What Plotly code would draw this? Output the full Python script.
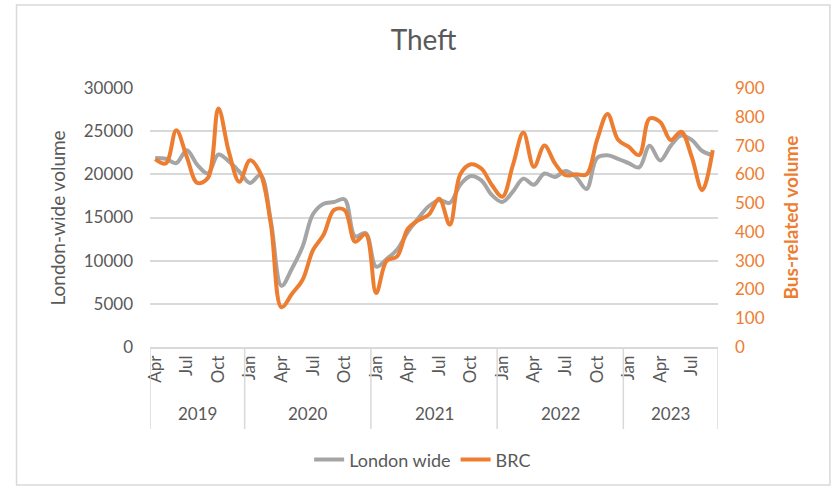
import plotly.graph_objects as go
import pandas as pd

# Monthly periods, April 2019 to September 2023
periods = pd.period_range("2019-04", "2023-09", freq="M")
month_labels = [p.strftime("%b") for p in periods]
year_labels = [p.year for p in periods]

# London-wide theft volume (left axis)
london_wide = [
    21900, 21800, 21300, 22800, 21100, 20100, 22300, 21500, 20300, 19000,
    19900, 14500, 7100, 9100, 11600, 15400, 16600, 16800, 17100, 12800,
    13200, 9300, 10200, 11300, 13300, 14900, 16300, 17000, 16700, 18800,
    19800, 19300, 17600, 16800, 18000, 19500, 18800, 20100, 19700, 20400,
    19700, 18300, 21900, 22200, 21800, 21300, 20800, 23300, 21600, 23300,
    24500, 24000, 22700, 22200,
]

# Bus-related theft volume (right axis)
brc = [
    653, 638, 753, 660, 570, 587, 829, 678, 574, 649,
    603, 424, 138, 185, 233, 337, 390, 476, 476, 366,
    392, 188, 300, 315, 410, 440, 460, 515, 425, 600,
    635, 620, 563, 522, 632, 745, 626, 700, 638, 597,
    600, 600, 720, 810, 720, 696, 667, 794, 782, 719,
    748, 661, 545, 684,
]

GREY = "#A5A5A5"
ORANGE = "#ED7D31"
TEXT = "#595959"
RULE = "#D9D9D9"
FONT = "Lato"

idx = list(range(len(periods)))
shown_months = {"Jan", "Apr", "Jul", "Oct"}
tickvals = [i for i, m in enumerate(month_labels) if m in shown_months]
ticktext = [month_labels[i] for i in tickvals]

fig = go.Figure()
fig.add_trace(go.Scatter(
    x=idx, y=london_wide, name="London wide", mode="lines",
    line=dict(color=GREY, width=4, shape="spline", smoothing=1),
))
fig.add_trace(go.Scatter(
    x=idx, y=brc, name="BRC", mode="lines", yaxis="y2",
    line=dict(color=ORANGE, width=4, shape="spline", smoothing=1),
))

# Year group separators below the month labels
bottom = -0.317
boundaries = [-0.5] + [i - 0.5 for i, m in enumerate(month_labels) if m == "Jan"] + [len(idx) - 0.5]
shapes = [
    dict(type="line", xref="x", yref="paper", x0=b, x1=b, y0=0, y1=bottom,
         line=dict(color=RULE, width=1.5))
    for b in boundaries
]
# Outer chart border
shapes.append(dict(type="rect", xref="paper", yref="paper",
                   x0=-0.235, x1=1.197, y0=-0.533, y1=1.32,
                   line=dict(color=RULE, width=1.5), fillcolor="rgba(0,0,0,0)",
                   layer="below"))

annotations = []
for yr in sorted(set(year_labels)):
    members = [i for i, y in enumerate(year_labels) if y == yr]
    annotations.append(dict(
        x=(members[0] + members[-1]) / 2, y=-0.255, xref="x", yref="paper",
        text=str(yr), showarrow=False, yanchor="middle",
        font=dict(family=FONT, size=17, color=TEXT),
    ))
annotations.append(dict(
    x=-0.162, y=0.5, xref="paper", yref="paper", text="London-wide volume",
    textangle=-90, showarrow=False, xanchor="center", yanchor="middle",
    font=dict(family=FONT, size=19, color=TEXT),
))
annotations.append(dict(
    x=1.1285, y=0.5, xref="paper", yref="paper", text="<b>Bus-related volume</b>",
    textangle=-90, showarrow=False, xanchor="center", yanchor="middle",
    font=dict(family=FONT, size=19, color=ORANGE),
))

fig.update_layout(
    width=837, height=490,
    margin=dict(l=150, r=119, t=88, b=143),
    paper_bgcolor="white", plot_bgcolor="white",
    font=dict(family=FONT, color=TEXT),
    title=dict(text="Theft", x=0.506, xref="container", y=1 - 40 / 490,
               yref="container", xanchor="center", yanchor="middle",
               font=dict(family=FONT, size=28, color=TEXT)),
    xaxis=dict(
        range=[-0.5, len(idx) - 0.5], tickmode="array",
        tickvals=tickvals, ticktext=ticktext, tickangle=-90,
        showgrid=False, zeroline=False, showline=True,
        linecolor=RULE, linewidth=1.5, ticks="",
        tickfont=dict(family=FONT, size=17, color=TEXT),
    ),
    yaxis=dict(
        range=[0, 30000], dtick=5000, tickformat="d",
        showgrid=True, gridcolor=RULE,
        gridwidth=1.5, zeroline=False, showline=False, ticks="",
        tickfont=dict(family=FONT, size=17, color=TEXT),
        ticklabelstandoff=16,
    ),
    yaxis2=dict(
        range=[0, 900], dtick=100, tickformat="d", overlaying="y", side="right",
        showgrid=False, zeroline=False, showline=False, ticks="",
        tickfont=dict(family=FONT, size=17, color=ORANGE),
        ticklabelstandoff=16,
    ),
    legend=dict(
        orientation="h", x=0.48, xanchor="center", y=-0.436, yanchor="middle",
        font=dict(family=FONT, size=18, color=TEXT),
        bgcolor="rgba(0,0,0,0)",
    ),
    shapes=shapes,
    annotations=annotations,
)

fig.write_html("out.html")
